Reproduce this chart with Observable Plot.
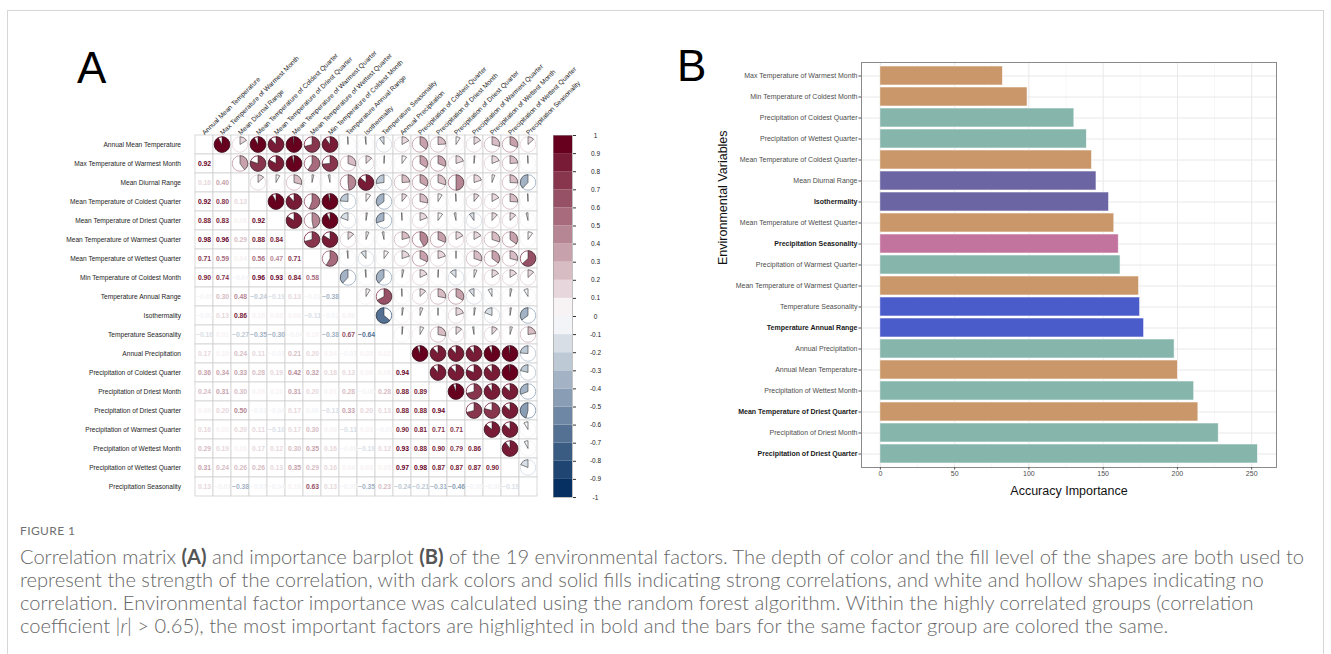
<!DOCTYPE html>
<html>
<head>
<meta charset="utf-8">
<script src="https://cdn.jsdelivr.net/npm/d3@7"></script>
<script src="https://cdn.jsdelivr.net/npm/@observablehq/plot@0.6"></script>
<style>
  body { margin: 0; background: #ffffff; }
  #wrap { position: relative; width: 1331px; height: 654px; overflow: hidden; font-family: "Liberation Sans", Arial, sans-serif; background: #fff; }
  #frame { position: absolute; left: 7px; top: 10px; width: 1317px; height: 700px; border: 1px solid #d6d6d6; box-sizing: border-box; }
  .abs { position: absolute; }
  .letter { position: absolute; font-family: "Liberation Sans", Arial, sans-serif; font-size: 44px; line-height: 44px; color: #000; }
  #figlabel { position: absolute; left: 20px; top: 523px; font-family: Lato, "Open Sans", sans-serif; font-size: 12px; color: #707070; letter-spacing: 0.4px; }
  #caption { position: absolute; left: 20px; top: 545px; font-family: Lato, "Open Sans", sans-serif; font-weight: 300; font-size: 17px; line-height: 23px; color: #666666; white-space: nowrap; }
  #caption b { font-weight: 700; color: #555; }
  #caption div { white-space: nowrap; }
</style>
</head>
<body>
<div id="wrap">
  <div id="frame"></div>
  <div id="panelA" class="abs" style="left:0px;top:0px;"></div>
  <div id="legendA" class="abs" style="left:540px;top:120px;"></div>
  <div id="panelB" class="abs" style="left:600px;top:0px;"></div>
  <div class="letter" style="left:77px;top:46px;">A</div>
  <div class="letter" style="left:677px;top:44px;">B</div>
  <div id="figlabel">FIGURE 1</div>
  <div id="caption">
    <div id="cap1">Correlation matrix <b>(A)</b> and importance barplot <b>(B)</b> of the 19 environmental factors. The depth of color and the fill level of the shapes are both used to</div>
    <div>represent the strength of the correlation, with dark colors and solid fills indicating strong correlations, and white and hollow shapes indicating no</div>
    <div>correlation. Environmental factor importance was calculated using the random forest algorithm. Within the highly correlated groups (correlation</div>
    <div>coefficient |<i>r</i>| &gt; 0.65), the most important factors are highlighted in bold and the bars for the same factor group are colored the same.</div>
  </div>
</div>
<script>
// ---------------- DATA ----------------
const names = [
  "Annual Mean Temperature",
  "Max Temperature of Warmest Month",
  "Mean Diurnal Range",
  "Mean Temperature of Coldest Quarter",
  "Mean Temperature of Driest Quarter",
  "Mean Temperature of Warmest Quarter",
  "Mean Temperature of Wettest Quarter",
  "Min Temperature of Coldest Month",
  "Temperature Annual Range",
  "Isothermality",
  "Temperature Seasonality",
  "Annual Precipitation",
  "Precipitation of Coldest Quarter",
  "Precipitation of Driest Month",
  "Precipitation of Driest Quarter",
  "Precipitation of Warmest Quarter",
  "Precipitation of Wettest Month",
  "Precipitation of Wettest Quarter",
  "Precipitation Seasonality"
];

// lower triangle of the correlation matrix (row i holds columns 0..i-1)
const corrRows = [
  [],
  [0.92],
  [0.16, 0.40],
  [0.92, 0.80, 0.13],
  [0.88, 0.83, 0.08, 0.92],
  [0.98, 0.96, 0.29, 0.88, 0.84],
  [0.71, 0.59, 0.04, 0.56, 0.47, 0.71],
  [0.90, 0.74, -0.04, 0.96, 0.93, 0.84, 0.58],
  [-0.01, 0.30, 0.48, -0.24, -0.19, 0.13, -0.02, -0.38],
  [-0.02, 0.13, 0.86, 0.10, 0.03, 0.06, -0.11, -0.02, 0.09],
  [-0.10, 0.01, -0.27, -0.35, -0.30, -0.04, 0.10, -0.38, 0.67, -0.64],
  [0.17, 0.10, 0.24, 0.11, -0.01, 0.21, 0.20, 0.04, -0.01, 0.03, 0.02],
  [0.36, 0.34, 0.33, 0.28, 0.19, 0.42, 0.32, 0.18, 0.13, 0.06, 0.08, 0.94],
  [0.24, 0.31, 0.30, 0.09, 0.10, 0.31, 0.20, 0.01, 0.28, -0.00, 0.28, 0.88, 0.89],
  [0.09, 0.20, 0.50, -0.01, -0.04, 0.17, 0.00, -0.13, 0.33, 0.20, 0.13, 0.88, 0.88, 0.94],
  [0.16, 0.02, 0.20, 0.11, -0.10, 0.17, 0.30, 0.06, -0.11, 0.03, -0.03, 0.90, 0.81, 0.71, 0.71],
  [0.29, 0.19, 0.06, 0.17, 0.12, 0.30, 0.35, 0.16, -0.08, -0.19, 0.12, 0.93, 0.88, 0.90, 0.79, 0.86],
  [0.31, 0.24, 0.26, 0.26, 0.13, 0.35, 0.29, 0.16, 0.04, 0.03, 0.05, 0.97, 0.98, 0.87, 0.87, 0.87, 0.90],
  [0.13, -0.01, -0.38, -0.01, -0.04, 0.10, 0.63, 0.13, -0.09, -0.35, 0.23, -0.24, -0.21, -0.31, -0.46, -0.09, -0.08, -0.19]
];

const legendTicks = [1, 0.9, 0.8, 0.7, 0.6, 0.5, 0.4, 0.3, 0.2, 0.1, 0, -0.1, -0.2, -0.3, -0.4, -0.5, -0.6, -0.7, -0.8, -0.9, -1];

// bar chart (top to bottom)
const barNames = [
  "Max Temperature of Warmest Month",
  "Min Temperature of Coldest Month",
  "Precipitation of Coldest Quarter",
  "Precipitation of Wettest Quarter",
  "Mean Temperature of Coldest Quarter",
  "Mean Diurnal Range",
  "Isothermality",
  "Mean Temperature of Wettest Quarter",
  "Precipitation Seasonality",
  "Precipitation of Warmest Quarter",
  "Mean Temperature of Warmest Quarter",
  "Temperature Seasonality",
  "Temperature Annual Range",
  "Annual Precipitation",
  "Annual Mean Temperature",
  "Precipitation of Wettest Month",
  "Mean Temperature of Driest Quarter",
  "Precipitation of Driest Month",
  "Precipitation of Driest Quarter"
];
const barValues = [82.5, 99.1, 130.6, 139.0, 142.5, 145.5, 154.0, 157.5, 160.5, 161.7, 174.2, 174.9, 177.6, 198.1, 200.3, 211.3, 214.1, 227.8, 254.2];
const barGroups = ["temp", "temp", "prec", "prec", "temp", "diur", "diur", "temp", "pseas", "prec", "temp", "tseas", "tseas", "prec", "temp", "prec", "temp", "prec", "prec"];
const boldNames = ["Isothermality", "Precipitation Seasonality", "Temperature Annual Range", "Mean Temperature of Driest Quarter", "Precipitation of Driest Quarter"];
const groupNames = ["temp", "prec", "diur", "pseas", "tseas"];
const groupColors = ["#c9976a", "#86b5ac", "#6c65a3", "#c2749f", "#4a5bca"];
const xTicks = [0, 50, 100, 150, 200, 250];
const xMinorTicks = [25, 75, 125, 175, 225];

// ---------------- COLOURS ----------------
const nBins = 20;
const palette = d3.range(nBins).map(k => {
  const t = k / (nBins - 1);
  return t < 0.5 ? d3.interpolateRgb("#053061", "#FFFFFF")(t * 2) : d3.interpolateRgb("#FFFFFF", "#67001F")((t - 0.5) * 2);
});
const binColor = v => palette[Math.min(nBins - 1, Math.max(0, Math.ceil((v + 1) / 2 * nBins - 1e-9) - 1))];
const fmt = v => ((v < 0 || Object.is(v, -0)) ? "\u2212" : "") + Math.abs(v).toFixed(2);

// ---------------- PANEL A ----------------
const N = names.length;
const corrAt = (i, j) => i === j ? 1 : (i > j ? corrRows[i][j] : corrRows[j][i]);
const cells = [];
for (let i = 0; i < N; i++) for (let j = 0; j < N; j++) cells.push({i, j, row: names[i], col: names[j], v: corrAt(i, j)});
const lower = cells.filter(d => d.i > d.j);
const upper = cells.filter(d => d.i < d.j);

function pieMark(index, scales) {
  const {x, y} = scales;
  const bw = x.bandwidth ? x.bandwidth() : Math.abs(x(names[1]) - x(names[0]));
  const bh = y.bandwidth ? y.bandwidth() : Math.abs(y(names[1]) - y(names[0]));
  const R = Math.min(bw, bh) * 0.43;
  const g = d3.create("svg:g");
  const arc = d3.arc().innerRadius(0).outerRadius(R).startAngle(0);
  for (const d of upper) {
    const cx = x(d.col) + bw / 2, cy = y(d.row) + bh / 2;
    const c = binColor(d.v);
    g.append("circle").attr("cx", cx).attr("cy", cy).attr("r", R)
      .attr("fill", "white").attr("stroke", c).attr("stroke-width", 0.9);
    g.append("path").attr("transform", `translate(${cx},${cy})`)
      .attr("d", arc.endAngle(d.v * 2 * Math.PI)())
      .attr("fill", c).attr("stroke", "#262626").attr("stroke-width", 0.55).attr("stroke-linejoin", "round");
  }
  return g.node();
}

const plotA = Plot.plot({
  width: 560, height: 510,
  marginLeft: 186.5, marginRight: 15, marginTop: 134.5, marginBottom: 13.5,
  x: {type: "band", domain: names, padding: 0, axis: null},
  y: {type: "band", domain: names, padding: 0, axis: null},
  color: {type: "identity"},
  style: {fontFamily: "'Liberation Sans', Arial, sans-serif", background: "transparent", overflow: "visible"},
  marks: [
    Plot.cell(cells, {x: "col", y: "row", fill: "white", stroke: "#cfcfcf", strokeWidth: 0.8, inset: 0}),
    Plot.text(lower, {x: "col", y: "row", text: d => fmt(d.v), fill: d => binColor(d.v), fontWeight: "bold", fontSize: 6.8}),
    pieMark,
    Plot.text(names, {y: d => d, frameAnchor: "left", textAnchor: "end", dx: -6, fontSize: 6.6, fill: "#1e1e1e"}),
    Plot.text(names, {x: d => d, frameAnchor: "top", textAnchor: "start", rotate: -45, dx: -3, dy: -3, fontSize: 6.7, fill: "#1e1e1e"})
  ]
});
document.getElementById("panelA").appendChild(plotA);

// colour legend
const legendBins = palette.map((c, k) => ({lo: -1 + k * 0.1, hi: -1 + (k + 1) * 0.1, c}));
const legend = Plot.plot({
  width: 80, height: 400,
  marginLeft: 13, marginRight: 48, marginTop: 15, marginBottom: 23,
  x: {domain: [0, 1], axis: null},
  y: {domain: [-1, 1], axis: null},
  color: {type: "identity"},
  style: {fontFamily: "'Liberation Sans', Arial, sans-serif", background: "transparent", overflow: "visible"},
  marks: [
    Plot.rect(legendBins, {x1: 0, x2: 1, y1: "lo", y2: "hi", fill: "c"}),
    Plot.frame({stroke: "#9a9a9a", strokeWidth: 0.6}),
    Plot.axisY({anchor: "right", ticks: legendTicks, tickFormat: d => d === 0 ? "0" : (d < 0 ? "-" : "") + String(Math.abs(d)),
      tickSize: 3, tickPadding: 20, textAnchor: "middle", fontSize: 6.5, fill: "#222", stroke: "#333", label: null})
  ]
});
document.getElementById("legendA").appendChild(legend);

// ---------------- PANEL B ----------------
const bars = barNames.map((n, i) => ({name: n, value: barValues[i], color: groupColors[groupNames.indexOf(barGroups[i])]}));
const normalNames = barNames.filter(n => !boldNames.includes(n));
const plotB = Plot.plot({
  width: 731, height: 510,
  marginLeft: 261, marginRight: 55, marginTop: 62, marginBottom: 43,
  x: {domain: [-12.7, 266.7], axis: null, label: null},
  y: {type: "band", domain: barNames, paddingInner: 0.1, paddingOuter: 0.15, axis: null, label: null},
  color: {type: "identity"},
  style: {fontFamily: "'Liberation Sans', Arial, sans-serif", background: "transparent", overflow: "visible"},
  marks: [
    Plot.ruleX(xMinorTicks, {stroke: "#f2f2f2", strokeWidth: 0.6}),
    Plot.ruleX(xTicks, {stroke: "#e8e8e8", strokeWidth: 1}),
    Plot.ruleY(barNames, {stroke: "#e8e8e8", strokeWidth: 1}),
    Plot.barX(bars, {x: "value", y: "name", fill: "color", stroke: "#ffffff", strokeWidth: 0.7, strokeOpacity: 0.8}),
    Plot.frame({stroke: "#8a8a8a", strokeWidth: 1}),
    Plot.axisX({ticks: xTicks, tickSize: 2.5, tickPadding: 1.5, fontSize: 7, fill: "#4d4d4d", stroke: "#555", label: null}),
    Plot.axisY({ticks: normalNames, tickSize: 2.5, tickPadding: 1.5, fontSize: 7, fill: "#4d4d4d", stroke: "#555", label: null}),
    Plot.axisY({ticks: boldNames, tickSize: 2.5, tickPadding: 1.5, fontSize: 7, fontWeight: "bold", fill: "#1a1a1a", stroke: "#555", label: null}),
    Plot.text(["Accuracy Importance"], {frameAnchor: "bottom", dy: 27, fontSize: 12.5, fill: "#111"}),
    Plot.text(["Environmental Variables"], {frameAnchor: "left", dx: -139, rotate: -90, fontSize: 12.5, fill: "#111"})
  ]
});
document.getElementById("panelB").appendChild(plotB);

// fit caption width to the reference line length
const cap1 = document.getElementById("cap1");
const span = document.createElement("span");
span.innerHTML = cap1.innerHTML;
cap1.innerHTML = "";
cap1.appendChild(span);
const w = span.getBoundingClientRect().width;
if (w > 0) {
  const fs = 17 * 1284 / w;
  document.getElementById("caption").style.fontSize = fs.toFixed(2) + "px";
}
</script>
</body>
</html>
